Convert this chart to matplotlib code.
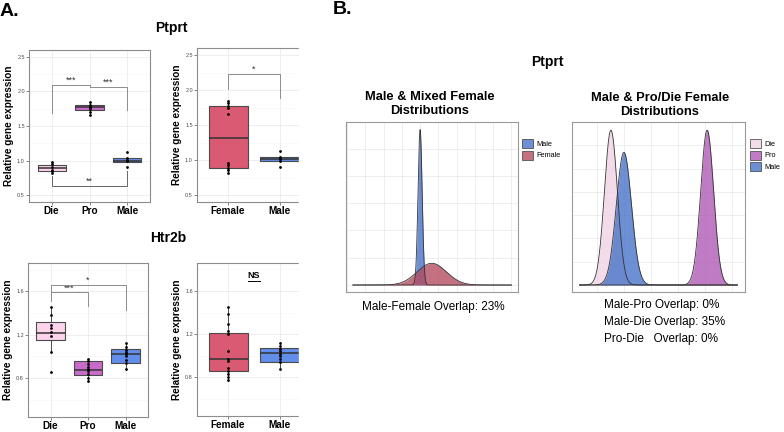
import numpy as np
import matplotlib
matplotlib.use('Agg')
import matplotlib.pyplot as plt
from matplotlib.patches import Patch, Rectangle

plt.rcParams['font.family'] = ['Liberation Sans', 'DejaVu Sans']

W, H = 784, 432

# box colours
DIE = '#FDD3EC'
PRO = '#C96BCB'
MALE = '#628EEB'
FEMALE = '#D95A72'

# Ptprt: Die / Pro / Male
ptprt_groups = ['Die', 'Pro', 'Male']
ptprt_pts = [[0.98, 0.95, 0.90, 0.87, 0.85, 0.82],
             [1.845, 1.81, 1.78, 1.76, 1.74, 1.70, 1.665],
             [1.13, 1.04, 1.01, 0.99, 0.90]]
ptprt_q1 = [0.845, 1.736, 0.986]
ptprt_med = [0.886, 1.774, 1.00]
ptprt_q3 = [0.93, 1.807, 1.043]
ptprt_lo = [0.82, 1.665, 0.986]
ptprt_hi = [0.98, 1.845, 1.043]

# Ptprt: Female / Male
ptprt_sex_groups = ['Female', 'Male']
ptprt_sex_pts = [[1.843, 1.81, 1.776, 1.74, 1.66, 0.96, 0.93, 0.89, 0.86, 0.82],
                 [1.13, 1.05, 1.01, 0.98, 0.90]]
ptprt_sex_q1 = [0.89, 0.99]
ptprt_sex_med = [1.31, 1.01]
ptprt_sex_q3 = [1.776, 1.04]
ptprt_sex_lo = [0.82, 0.99]
ptprt_sex_hi = [1.843, 1.04]

# Htr2b: Die / Pro / Male
htr_groups = ['Die', 'Pro', 'Male']
htr_pts = [[1.456, 1.385, 1.292, 1.26, 1.22, 1.19, 1.037, 0.852],
           [0.975, 0.955, 0.93, 0.90, 0.88, 0.86, 0.835, 0.80, 0.77],
           [1.12, 1.09, 1.06, 1.04, 1.02, 1.0, 0.97, 0.94, 0.88]]
htr_q1 = [1.154, 0.824, 0.939]
htr_med = [1.21, 0.871, 1.022]
htr_q3 = [1.314, 0.954, 1.068]
htr_lo = [1.037, 0.769, 0.877]
htr_hi = [1.456, 0.976, 1.124]

# Htr2b: Female / Male
htr_sex_groups = ['Female', 'Male']
htr_sex_pts = [[1.452, 1.39, 1.29, 1.23, 1.20, 1.04, 0.97, 0.95, 0.89, 0.86, 0.83, 0.80, 0.77],
               [1.12, 1.09, 1.06, 1.04, 1.02, 1.0, 0.97, 0.94, 0.88]]
htr_sex_q1 = [0.855, 0.939]
htr_sex_med = [0.969, 1.022]
htr_sex_q3 = [1.206, 1.068]
htr_sex_lo = [0.769, 0.877]
htr_sex_hi = [1.452, 1.124]

# density panels (mean, sd)
mixed_groups = ['Male', 'Female']
mixed_mean = [1.0, 1.16]
mixed_sd = [0.028, 0.2]
mixed_colors = ['#4873C8', '#B54C60']

split_groups = ['Die', 'Pro', 'Male']
split_mean = [0.88, 1.77, 1.0]
split_sd = [0.06, 0.06, 0.07]
split_colors = ['#F1D3E5', '#B05AB5', '#4873C8']


def px_axes(fig, x0, y0, x1, y1):
    return fig.add_axes([x0 / W, 1 - y1 / H, (x1 - x0) / W, (y1 - y0) / H])


def box_panel(ax, groups, pts, q1, med, q3, lo, hi, colors, ylim, yticks, yminor):
    n = len(groups)
    pos = list(range(1, n + 1))
    stats = [dict(med=med[i], q1=q1[i], q3=q3[i], whislo=lo[i], whishi=hi[i]) for i in range(n)]
    bp = ax.bxp(stats, positions=pos, widths=0.75, patch_artist=True, showfliers=False,
                showcaps=False,
                boxprops=dict(edgecolor='#4a4a4a', linewidth=0.8),
                medianprops=dict(color='#333333', linewidth=1.1),
                whiskerprops=dict(color='#333333', linewidth=0.6))
    for patch, c in zip(bp['boxes'], colors):
        patch.set_facecolor(c)
    for i, p in enumerate(pts):
        ax.scatter([pos[i]] * len(p), p, s=4, color='black', zorder=4, linewidths=0)
    ax.set_xlim(0.4, n + 0.6)
    ax.set_ylim(*ylim)
    ax.set_xticks(pos)
    ax.set_xticklabels(groups, fontsize=7.2, fontweight='bold', color='black')
    ax.set_yticks(yticks)
    ax.set_yticklabels([f'{t:.1f}' for t in yticks], fontsize=4, color='#4d4d4d')
    ax.set_yticks(yminor, minor=True)
    ax.tick_params(axis='both', length=2, width=0.5, color='#555555', pad=1)
    ax.tick_params(axis='y', which='minor', length=0)
    ax.set_axisbelow(True)
    ax.grid(which='major', color='#EBEBEB', lw=0.6)
    ax.grid(which='minor', axis='y', color='#F5F5F5', lw=0.4)
    for s in ax.spines.values():
        s.set_color('#8c8c8c')
        s.set_linewidth(0.8)
    ax.set_ylabel('Relative gene expression', fontsize=7.2, fontweight='bold', labelpad=2)


def bracket(ax, x1, x2, y, y1, y2, label, color='#8c8c8c'):
    ax.plot([x1, x1, x2, x2], [y1, y, y, y2], color=color, lw=0.7, zorder=3)
    ax.text((x1 + x2) / 2, y, label, ha='center', va='bottom', fontsize=6.5, color='#333333')


def density_panel(ax, means, sds, colors, xr, xlim, ylim, xgrid, ygrid):
    x = np.linspace(xr[0], xr[1], 600)
    for m, s, c in zip(means, sds, colors):
        y = np.exp(-0.5 * ((x - m) / s) ** 2) / (s * np.sqrt(2 * np.pi))
        ax.fill_between(x, 0, y, color=c, alpha=0.8, lw=0)
        ax.plot(x, y, color='#333333', lw=0.6)
    ax.set_xlim(*xlim)
    ax.set_ylim(*ylim)
    ax.set_xticks(xgrid)
    ax.set_yticks(ygrid)
    ax.set_xticklabels([])
    ax.set_yticklabels([])
    ax.tick_params(length=0)
    ax.set_axisbelow(True)
    ax.grid(color='#EBEBEB', lw=0.6)
    for s in ax.spines.values():
        s.set_color('#9a9a9a')
        s.set_linewidth(0.8)


fig = plt.figure(figsize=(W / 100, H / 100), dpi=100)

# ---- A: boxplots
ax1 = px_axes(fig, 29, 50, 150, 202)
box_panel(ax1, ptprt_groups, ptprt_pts, ptprt_q1, ptprt_med, ptprt_q3, ptprt_lo, ptprt_hi,
          [DIE, PRO, MALE], (0.4, 2.6), [0.5, 1.0, 1.5, 2.0, 2.5], [0.75, 1.25, 1.75, 2.25])
bracket(ax1, 1, 2, 2.10, 1.69, 2.06, '***')
bracket(ax1, 2, 3, 2.07, 2.06, 1.73, '***')
bracket(ax1, 1, 3, 0.63, 0.77, 0.85, '**', color='#666666')

ax2 = px_axes(fig, 197, 48, 311, 202)
box_panel(ax2, ptprt_sex_groups, ptprt_sex_pts, ptprt_sex_q1, ptprt_sex_med, ptprt_sex_q3,
          ptprt_sex_lo, ptprt_sex_hi, [FEMALE, MALE], (0.4, 2.6),
          [0.5, 1.0, 1.5, 2.0, 2.5], [0.75, 1.25, 1.75, 2.25])
bracket(ax2, 1, 2, 2.23, 2.02, 1.88, '*')

ax3 = px_axes(fig, 28, 263, 148, 417)
box_panel(ax3, htr_groups, htr_pts, htr_q1, htr_med, htr_q3, htr_lo, htr_hi,
          [DIE, PRO, MALE], (0.44, 1.86), [0.8, 1.2, 1.6], [0.6, 1.0, 1.4, 1.8])
bracket(ax3, 1, 2, 1.59, 1.51, 1.46, '***')
bracket(ax3, 1, 3, 1.66, 1.59, 1.43, '*')

ax4 = px_axes(fig, 197, 263, 311, 416)
box_panel(ax4, htr_sex_groups, htr_sex_pts, htr_sex_q1, htr_sex_med, htr_sex_q3,
          htr_sex_lo, htr_sex_hi, [FEMALE, MALE], (0.44, 1.86), [0.8, 1.2, 1.6],
          [0.6, 1.0, 1.4, 1.8])
ax4.text(1.5, 1.745, 'NS', ha='center', va='center', fontsize=6.5, fontweight='bold')
ax4.plot([1.38, 1.62], [1.69, 1.69], color='black', lw=0.7)

# image is cut on the right of panel A
fig.add_artist(Rectangle((299 / W, 0), 25 / W, 1, transform=fig.transFigure,
                         color='white', zorder=10))

# ---- B: densities
ax5 = px_axes(fig, 346, 122, 518, 292)
density_panel(ax5, mixed_mean, mixed_sd, mixed_colors, (0.08, 2.25), (-0.014, 2.34),
              (-0.64, 14.95), np.arange(0.0, 2.3, 0.25), np.arange(0, 15, 2.5))
ax5.legend(handles=[Patch(facecolor=c, alpha=0.8, edgecolor='#333333', lw=0.6, label=g)
                    for g, c in zip(mixed_groups, mixed_colors)],
           loc='upper left', bbox_to_anchor=(1.025, 0.9), frameon=False, fontsize=5.3,
           handlelength=1.5, handleheight=1.5, labelspacing=0.35, handletextpad=0.4,
           borderpad=0, borderaxespad=0)

ax6 = px_axes(fig, 572, 122, 745, 292)
density_panel(ax6, split_mean, split_sd, split_colors, (0.59, 2.05), (0.52, 2.12),
              (-0.3, 7.0), np.arange(0.75, 2.1, 0.25), np.arange(1, 7, 1))
ax6.legend(handles=[Patch(facecolor=c, alpha=0.8, edgecolor='#333333', lw=0.6, label=g)
                    for g, c in zip(split_groups, split_colors)],
           loc='upper left', bbox_to_anchor=(1.03, 0.9), frameon=False, fontsize=5.3,
           handlelength=1.5, handleheight=1.5, labelspacing=0.35, handletextpad=0.4,
           borderpad=0, borderaxespad=0)

# ---- texts
def ftext(x, y, s, **kw):
    fig.text(x / W, 1 - y / H, s, **kw)

ftext(0, 12, 'A.', fontsize=14, fontweight='bold', ha='left', va='center')
ftext(333, 10, 'B.', fontsize=14, fontweight='bold', ha='left', va='center')
ftext(171, 28, 'Ptprt', fontsize=10, fontweight='bold', ha='center', va='center')
ftext(168, 238, 'Htr2b', fontsize=10, fontweight='bold', ha='center', va='center')
ftext(547, 62, 'Ptprt', fontsize=10, fontweight='bold', ha='center', va='center')
ftext(430, 104, 'Male & Mixed Female\nDistributions', fontsize=9.3, fontweight='bold',
      ha='center', va='center', linespacing=1.15)
ftext(660, 105, 'Male & Pro/Die Female\nDistributions', fontsize=9.3, fontweight='bold',
      ha='center', va='center', linespacing=1.15)
ftext(433, 307, 'Male-Female Overlap: 23%', fontsize=8.5, ha='center', va='center')
ftext(604, 305, 'Male-Pro Overlap: 0%', fontsize=8.5, ha='left', va='center')
ftext(604, 322, 'Male-Die Overlap: 35%', fontsize=8.5, ha='left', va='center')
ftext(604, 339, 'Pro-Die   Overlap: 0%', fontsize=8.5, ha='left', va='center')

fig.savefig('out.png', dpi=100)
